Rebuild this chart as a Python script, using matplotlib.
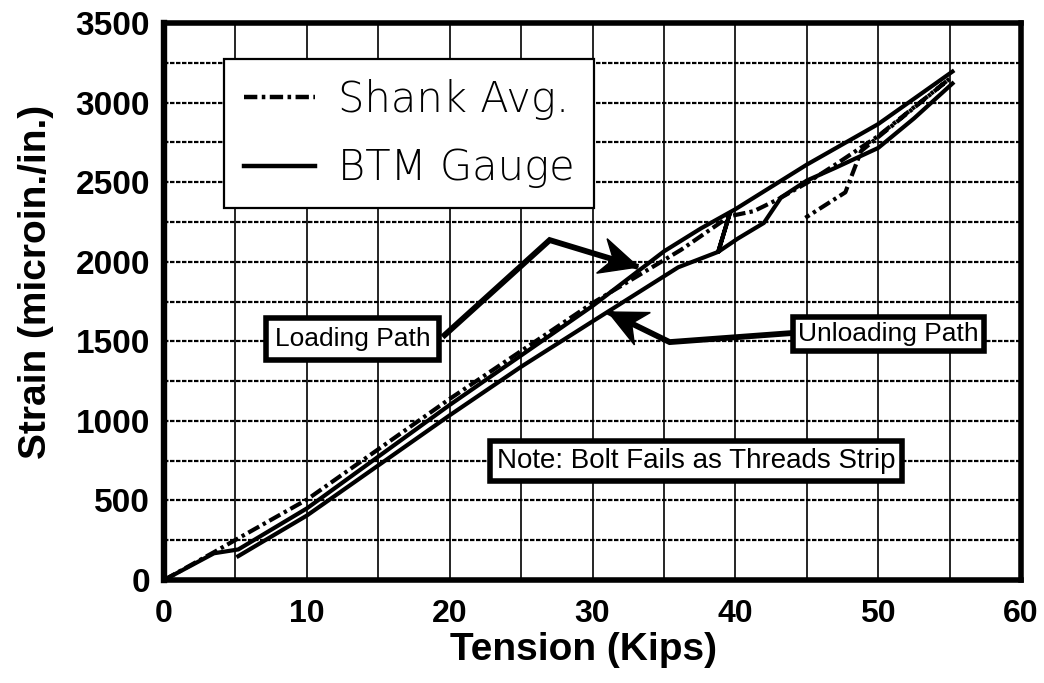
import numpy as np
import matplotlib
matplotlib.use("Agg")
import matplotlib.pyplot as plt
from matplotlib.lines import Line2D
from matplotlib.patches import Polygon
from matplotlib.transforms import Affine2D, ScaledTranslation
from matplotlib import font_manager

# ---------------- data ----------------
shank_x = [0, 3.5, 5.2, 10, 20, 30, 36.2, 39.6, 41.3, 43, 45, 47, 50, 55, 52, 48.8, 47.7, 44.9]
shank_y = [0, 175, 262, 505, 1138, 1740, 2075, 2286, 2318, 2393, 2495, 2610, 2790, 3150, 2930, 2695, 2436, 2276]

btm_load_x = [0, 3.5, 5.2, 10, 20, 30, 35, 37.6, 40, 45, 50, 55.2]
btm_load_y = [0, 168, 192, 450, 1100, 1722, 2065, 2210, 2330, 2610, 2865, 3195]

btm_unload_x = [55.2, 52.5, 50, 47, 45, 43.2, 42, 40.2, 38.8, 39.6, 38.8, 36, 30, 25, 20, 10, 5.2]
btm_unload_y = [3120, 2900, 2715, 2590, 2510, 2404, 2244, 2147, 2062, 2300, 2062, 1965, 1625, 1340, 1035, 405, 150]

x_ticks = [0, 10, 20, 30, 40, 50, 60]
y_ticks = [0, 500, 1000, 1500, 2000, 2500, 3000, 3500]

legend_labels = ["Shank Avg.", "BTM Gauge"]
loading_label = "Loading Path"
unloading_label = "Unloading Path"
note_label = "Note: Bolt Fails as Threads Strip"

# ---------------- figure ----------------
fig = plt.figure(figsize=(10.44, 6.83), dpi=100)
ax = fig.add_axes([0.1571, 0.1508, 0.8209, 0.8155])

ax.set_xlim(0, 60)
ax.set_ylim(0, 3500)

# grid
ax.set_xticks(x_ticks)
ax.set_yticks(y_ticks)
ax.set_xticks([5, 15, 25, 35, 45, 55], minor=True)
ax.set_yticks([250 + 500 * i for i in range(7)], minor=True)
ax.xaxis.grid(True, which="both", color="black", linestyle="-", linewidth=1.2)
ax.yaxis.grid(True, which="both", color="black", linestyle=(0, (2.0, 0.7)), linewidth=1.6)
ax.set_axisbelow(True)

for side, sp in ax.spines.items():
    sp.set_linewidth(4.0)
    sp.set_color("black")
ax.spines["left"].set_linewidth(4.6)

ax.tick_params(axis="both", which="both", length=0)
ax.tick_params(axis="x", pad=14)
ax.tick_params(axis="y", pad=10)

tick_font = ["Liberation Sans", "DejaVu Sans"]
for lab in ax.get_xticklabels():
    lab.set_fontfamily(tick_font)
    lab.set_fontweight("bold")
    lab.set_fontsize(23)
for lab in ax.get_yticklabels():
    lab.set_fontfamily(tick_font)
    lab.set_fontweight("bold")
    lab.set_fontsize(24)

ax.set_xlabel("Tension (Kips)", fontfamily=tick_font, fontweight="bold", fontsize=28)
ax.set_ylabel("Strain (microin./in.)", fontfamily=tick_font, fontweight="bold", fontsize=28)
ax.xaxis.set_label_coords(0.489, -0.094)
ax.yaxis.set_label_coords(-0.128, 0.535)

# data lines
dashdot = (0, (3.0, 1.0, 0.8, 1.0))
lw_data = 3.0
ax.plot(shank_x, shank_y, color="black", linewidth=lw_data, linestyle=dashdot,
        solid_joinstyle="round", zorder=3)
ax.plot(btm_load_x, btm_load_y, color="black", linewidth=lw_data,
        solid_joinstyle="round", zorder=3)
ax.plot(btm_unload_x, btm_unload_y, color="black", linewidth=lw_data,
        solid_joinstyle="round", zorder=3)

# legend font: thin, wide sans
names = {f.name + "|" + str(f.weight) for f in font_manager.fontManager.ttflist}
if any(n.startswith("DejaVu Sans|") and n.split("|")[1] in ("200", "extra light", "250") for n in names):
    leg_prop = {"family": ["DejaVu Sans"], "weight": 200, "size": 30}
else:
    leg_prop = {"family": ["Roboto", "DejaVu Sans"], "weight": "light", "size": 32}

handles = [Line2D([], [], color="black", linewidth=3.2, linestyle=dashdot),
           Line2D([], [], color="black", linewidth=3.2)]
leg = ax.legend(handles, legend_labels, loc="upper left", bbox_to_anchor=(0.0704, 0.935),
                borderaxespad=0, fancybox=False, framealpha=1, edgecolor="black",
                prop=leg_prop, handlelength=1.7, handletextpad=0.55, labelspacing=0.66,
                borderpad=0.47)
leg.get_frame().set_linewidth(1.6)
leg.set_zorder(5)

# annotation boxes
box_font = ["Liberation Sans", "DejaVu Sans"]
ax.text(13.2, 1514, loading_label, ha="center", va="center", fontsize=19,
        fontfamily=box_font,
        bbox=dict(boxstyle="square,pad=0.33", fc="white", ec="black", lw=4), zorder=6)
ax.text(50.7, 1546, unloading_label, ha="center", va="center", fontsize=19,
        fontfamily=box_font,
        bbox=dict(boxstyle="square,pad=0.2", fc="white", ec="black", lw=4), zorder=6)
ax.text(37.25, 748, note_label, ha="center", va="center", fontsize=20,
        fontfamily=box_font,
        bbox=dict(boxstyle="square,pad=0.25", fc="white", ec="black", lw=4), zorder=6)

# arrows: leader polyline + barbed (stealth) head
load_path = ([19.5, 27.0], [1527, 2136])
load_tip = (33.2, 1967)
unload_path = ([44.0, 35.4], [1552, 1495])
unload_tip = (31.1, 1684)

head_shape = np.array([[0, 0], [-38, 18], [-26, 0], [-38, -18]])  # pixels, tip at origin

for (px, py), tip in ((load_path, load_tip), (unload_path, unload_tip)):
    xs = list(px) + [tip[0]]
    ys = list(py) + [tip[1]]
    d0 = ax.transData.transform((xs[-2], ys[-2]))
    d1 = ax.transData.transform(tip)
    ang = np.arctan2(d1[1] - d0[1], d1[0] - d0[0])
    ax.plot(xs, ys, color="black", linewidth=4.2, solid_capstyle="butt",
            solid_joinstyle="miter", zorder=5)
    tr = Affine2D().rotate(ang) + ScaledTranslation(tip[0], tip[1], ax.transData)
    ax.add_patch(Polygon(head_shape, closed=True, transform=tr, fc="black",
                         ec="black", lw=1, zorder=6))

fig.savefig("out.png", dpi=100)
